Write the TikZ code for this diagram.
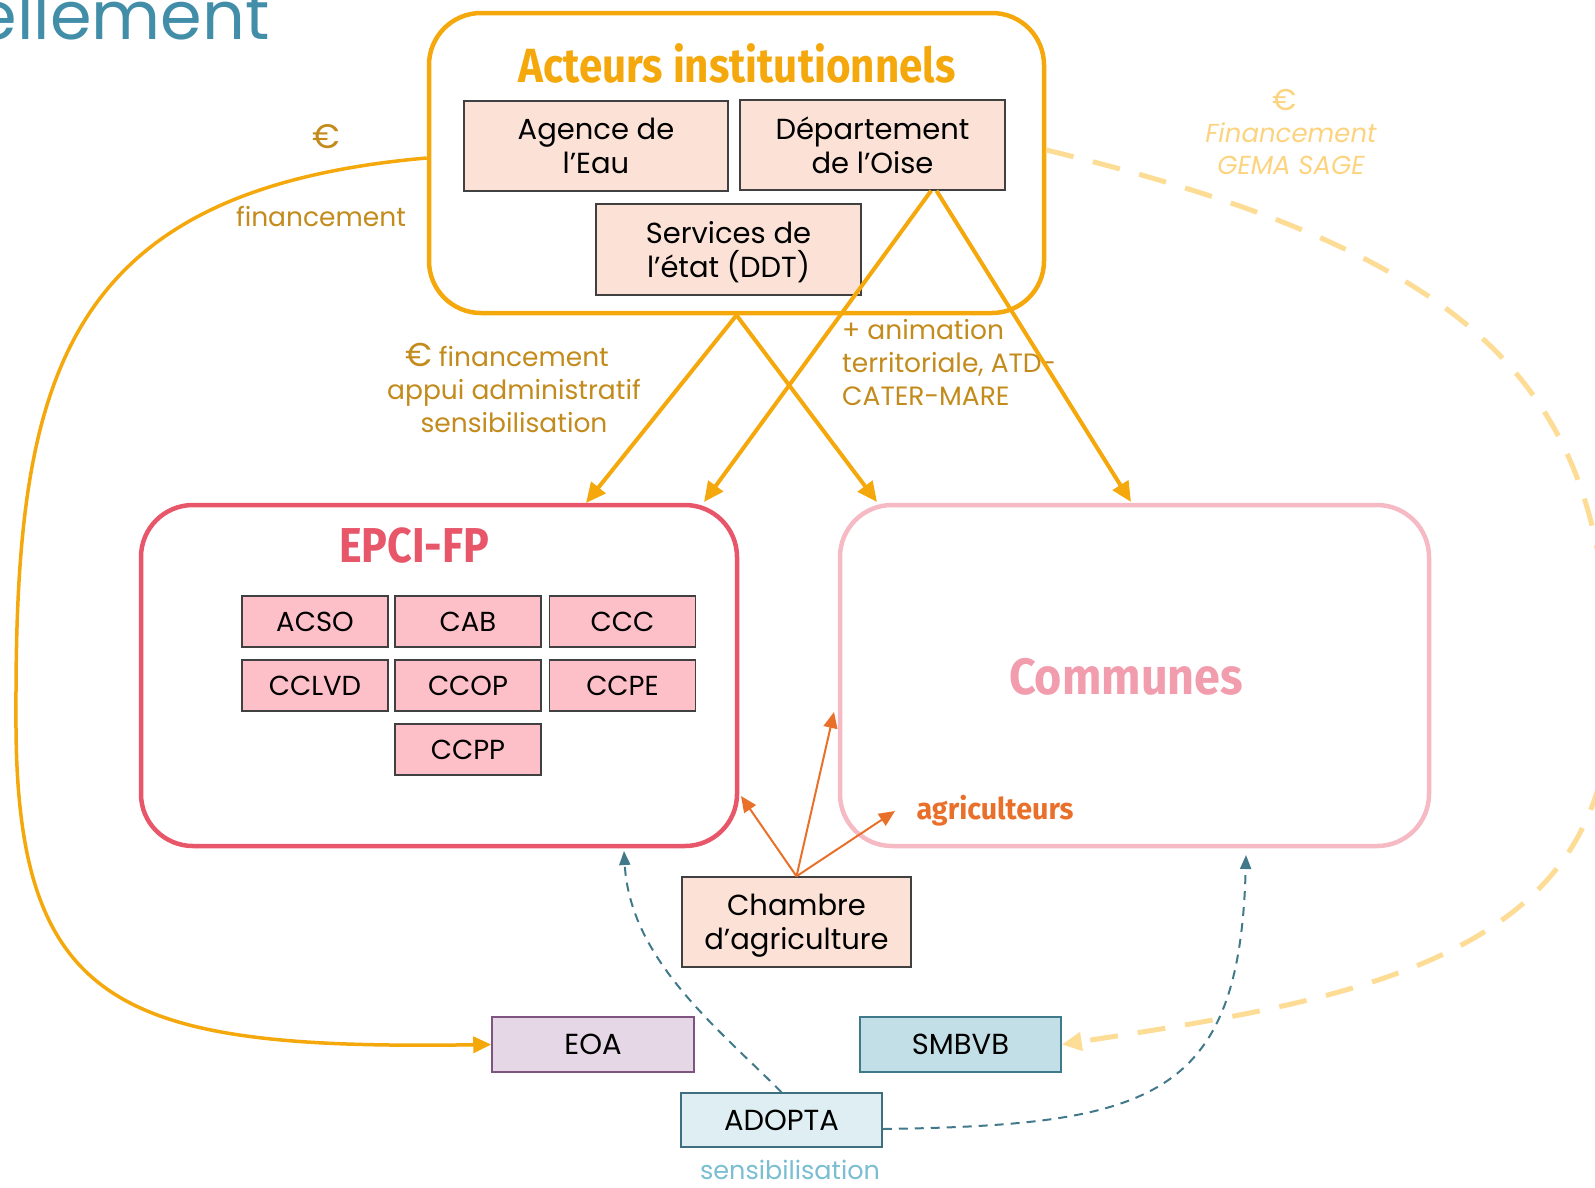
\documentclass[tikz,border=0pt]{standalone}
\usepackage{fontspec}
\usepackage{graphicx}
\setmainfont{Poppins}
\newfontfamily\titlefont{Fira Sans}
\usetikzlibrary{arrows.meta,calc}
\definecolor{acteur}{HTML}{F4A80C}
\definecolor{gold}{HTML}{C28B1C}
\definecolor{lightyel}{HTML}{FDDC96}
\definecolor{lightyeltxt}{HTML}{FCD37F}
\definecolor{epcic}{HTML}{E8566A}
\definecolor{pinkfill}{HTML}{FEC0C8}
\definecolor{boxline}{HTML}{404040}
\definecolor{commc}{HTML}{F5BAC4}
\definecolor{commtxt}{HTML}{F29DAE}
\definecolor{agri}{HTML}{E9702A}
\definecolor{peachfill}{HTML}{FBE1D6}
\definecolor{eoafill}{HTML}{E6D7E6}
\definecolor{eoaline}{HTML}{7E5580}
\definecolor{smbfill}{HTML}{C2DFE7}
\definecolor{smbline}{HTML}{3E7A89}
\definecolor{adofill}{HTML}{DFEEF2}
\definecolor{adoline}{HTML}{3E6F7E}
\definecolor{tealdash}{HTML}{41798A}
\definecolor{sensib}{HTML}{7BBDD2}
\definecolor{header}{HTML}{428EA8}
\tikzset{
  boxbase/.style={font=\fontsize{29}{34.5}\selectfont, align=center, inner sep=0pt, text depth=0pt, line width=1.5pt, draw=boxline},
  peachbox/.style={boxbase, fill=peachfill},
  pinkbox/.style={boxbase, fill=pinkfill, minimum width=146pt, minimum height=51pt, font=\fontsize{27.5}{33}\selectfont},
  groupbox/.style={rounded corners=52pt, line width=4.5pt},
  orarrow/.style={draw=acteur, line width=4pt, -{Triangle[length=20pt,width=18pt]}},
  agarrow/.style={draw=agri, line width=2pt, -{Triangle[length=16pt,width=14pt]}},
  tealarrow/.style={draw=tealdash, line width=2pt, dash pattern=on 9pt off 7pt, -{Triangle[length=14pt,width=11pt]}},
  lbl/.style={font=\fontsize{26.5}{33}\selectfont, align=center, inner sep=0pt},
  ttl/.style={font=\titlefont\bfseries, inner sep=0pt},
}
\begin{document}
\begin{tikzpicture}[x=1pt,y=-1pt]
\useasboundingbox (0,0) rectangle (1595,1187);
\clip (0,0) rectangle (1595,1187);

% header fragment
\node[anchor=base east, inner sep=0pt, text=header, font=\fontsize{67}{70}\selectfont] (hdr) at (270,39) {ellement};

% group boxes
\node[groupbox, draw=acteur, minimum width=615pt, minimum height=300pt] (act) at (736.5,163) {};
\node[groupbox, draw=epcic, minimum width=596pt, minimum height=341pt] (epci) at (439,675.5) {};
\node[groupbox, draw=commc, minimum width=589pt, minimum height=341pt] (comm) at (1134.5,675.5) {};

% titles
\node[ttl, text=acteur, font=\titlefont\bfseries\fontsize{48}{52}\selectfont] (actt) at (737,63) {\resizebox{437pt}{\height}{Acteurs institutionnels}};
\node[ttl, text=epcic, font=\titlefont\bfseries\fontsize{49}{52}\selectfont] (epcit) at (414,546) {\resizebox{150pt}{\height}{EPCI-FP}};
\node[ttl, text=commtxt, font=\titlefont\bfseries\fontsize{51}{55}\selectfont] (commt) at (1126,677) {\resizebox{234pt}{\height}{Communes}};
\node[ttl, text=agri, font=\titlefont\bfseries\fontsize{30}{33}\selectfont] (agrit) at (995,811) {\resizebox{157pt}{\height}{agriculteurs}};

% institutional boxes
\node[peachbox, minimum width=264pt, minimum height=90pt] (agence) at (596,146) {Agence de\\l’Eau};
\node[peachbox, minimum width=265pt, minimum height=90pt] (dep) at (872.5,145) {Département\\de l’Oise};
\node[peachbox, minimum width=265pt, minimum height=91pt] (ddt) at (728.5,249.5) {Services de\\l’état (DDT)};

% EPCI boxes
\node[pinkbox] (acso) at (315,621.5) {ACSO};
\node[pinkbox] (cab) at (468,621.5) {CAB};
\node[pinkbox] (ccc) at (622.5,621.5) {CCC};
\node[pinkbox] (cclvd) at (315,685.5) {CCLVD};
\node[pinkbox] (ccop) at (468,685.5) {CCOP};
\node[pinkbox] (ccpe) at (622.5,685.5) {CCPE};
\node[pinkbox] (ccpp) at (468,749.5) {CCPP};

% bottom boxes
\node[peachbox, minimum width=229pt, minimum height=90pt] (chambre) at (796.5,922) {Chambre\\d’agriculture};
\node[boxbase, fill=eoafill, draw=eoaline, minimum width=202pt, minimum height=55pt] (eoa) at (593,1044.5) {EOA};
\node[boxbase, fill=smbfill, draw=smbline, minimum width=201pt, minimum height=55pt] (smb) at (960.5,1044.5) {SMBVB};
\node[boxbase, fill=adofill, draw=adoline, minimum width=201pt, minimum height=54pt] (ado) at (781.5,1120) {ADOPTA};
\node[lbl, text=sensib, font=\fontsize{25.5}{30}\selectfont] (sens2) at (790,1170) {sensibilisation};

% labels
\node[lbl, text=gold, font=\fontsize{34}{36}\selectfont] (eur1) at (326,137) {€};
\node[lbl, text=gold] (fin1) at (321,216) {financement};
\node[lbl, text=gold] (fin2) at (514,388) {\hspace*{-14pt}{\fontsize{33}{33}\selectfont€} financement\\appui administratif\\sensibilisation};
\node[lbl, text=gold, align=left, anchor=west] (anim) at (842,362) {+ animation\\territoriale, ATD-\\CATER-MARE};
\node[lbl, text=lightyeltxt, font=\fontsize{26}{32}\selectfont\itshape] (gema) at (1291,132) {{\upshape\fontsize{30}{32}\selectfont \hspace*{-12pt}€}\\Financement\\GEMA SAGE};

% coordinates
\coordinate (depA) at ($(dep.south west)!0.72!(dep.south east)$);
\coordinate (depB) at ($(dep.south west)!0.74!(dep.south east)$);
\coordinate (e1) at (586,503);
\coordinate (e2) at (704,502);
\coordinate (c1) at (877,502);
\coordinate (c2) at (1131,502);
\coordinate (g1) at (741,796);
\coordinate (g2) at (834,712);
\coordinate (g3) at (895,811);
\coordinate (t1) at (624,851);
\coordinate (t2) at (1246,855);

% orange arrows
\draw[orarrow] (act.south) -- (e1);
\draw[orarrow] (act.south) -- (c1);
\draw[orarrow] (depA) -- (e2);
\draw[orarrow] (depB) -- (c2);

% financement curve to EOA
\draw[draw=acteur, line width=3.5pt, -{Triangle[length=18pt,width=16pt]}]
  ([yshift=5pt]act.west) .. controls (60,190) and (15,380) .. (16,712)
  .. controls (14,1010) and (120,1050) .. (eoa.west);

% GEMA dashed curve
\draw[draw=lightyel, line width=5pt, dash pattern=on 28pt off 20pt, -{Triangle[length=20pt,width=18pt]}]
  ([yshift=13pt]act.east) .. controls (1500,260) and (1610,400) .. (1610,700)
  .. controls (1610,960) and (1350,1000) .. (smb.east);

% chambre arrows
\draw[agarrow] (chambre.north) -- (g1);
\draw[agarrow] (chambre.north) -- (g2);
\draw[agarrow] (chambre.north) -- (g3);

% ADOPTA dashed
\draw[tealarrow] (ado.north) .. controls (720,1030) and (630,960) .. (t1);
\draw[tealarrow] ([yshift=-9pt]ado.east) .. controls (1150,1125) and (1240,1100) .. (t2);
\end{tikzpicture}
\end{document}
